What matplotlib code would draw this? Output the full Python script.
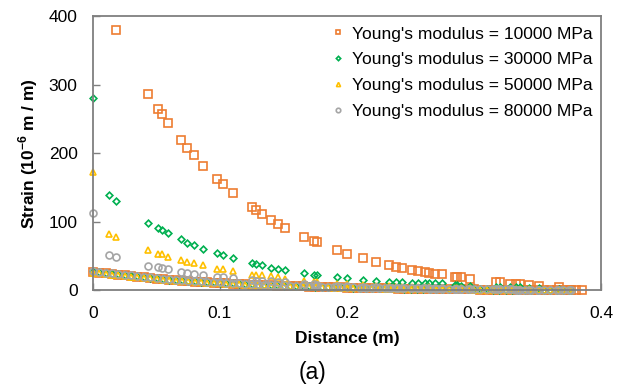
import matplotlib
matplotlib.use('Agg')
import matplotlib.pyplot as plt

plt.rcParams['font.family'] = 'Liberation Sans'
plt.rcParams['mathtext.fontset'] = 'custom'
plt.rcParams['mathtext.rm'] = 'Liberation Sans'
plt.rcParams['mathtext.bf'] = 'Liberation Sans:bold'

# Sparse points (same distances for all series)
sparse_x = [0.0, 0.0128, 0.018, 0.0433, 0.0514, 0.054, 0.0588, 0.069, 0.0743, 0.0795,
            0.087, 0.0974, 0.1026, 0.1105, 0.1254, 0.128, 0.133, 0.1404, 0.146, 0.151,
            0.1664, 0.1743, 0.1766, 0.192, 0.1997, 0.2126, 0.223, 0.233, 0.2386, 0.2433,
            0.251, 0.256, 0.2614, 0.2643, 0.2695, 0.2748, 0.2848, 0.287, 0.2898, 0.297,
            0.317, 0.3205, 0.328, 0.333, 0.336, 0.343, 0.351, 0.3667, 0.376, 0.380, 0.385]

# 10000 MPa starts at 0.018 (earlier values are above the axis limit)
e10000_x = sparse_x[2:]
e10000_y = [380, 286, 264, 257, 244, 219, 207, 197, 181, 163,
            155, 142, 121, 118, 111, 102, 97, 91, 78, 72,
            70, 59, 53.5, 47, 42, 37, 34.5, 32.6, 30, 28.5,
            26.5, 26, 24, 23.4, 19.5, 19.5, 19, 16.5, 12, 11.7,
            9.5, 9, 8.8, 7.3, 6.8, 4.4, 0.5, 0, 0]

other_x = sparse_x[:49]
e30000_y = [281, 139, 130, 98, 90.5, 88, 84, 74.5, 69.6, 65.7,
            60.3, 54, 51, 46.7, 39.4, 38.5, 36.5, 33, 31, 29.6,
            24.8, 22.9, 22.4, 19, 18, 15, 13.6, 12.2, 12, 11.8,
            11.5, 11.3, 11, 10.8, 10.5, 10.2, 7.5, 7.3, 7.2, 7,
            5.8, 5.5, 5, 4.6, 4.4, 4, 3.4, 2, 0]
e50000_y = [172, 83, 78, 58.4, 53.5, 52.5, 49, 44.3, 42, 39.4,
            36.5, 31.6, 31, 28, 23, 22, 22, 20.4, 19, 17,
            14, 13, 12.5, 9.7, 9, 7.3, 6.5, 6, 5.5, 5.3,
            5, 4.8, 4.6, 4.5, 4.3, 4.1, 3.6, 3.5, 3.4, 3.1,
            2.5, 2.4, 2.1, 2, 1.9, 1.6, 1.4, 0.8, 0.3]
e80000_y = [113, 51, 48.6, 36, 34, 33, 31, 26.8, 25.4, 24.3,
            23, 20, 19.5, 17.5, 14.6, 14.4, 14, 13.5, 12.5, 12,
            10, 9, 8.7, 7, 6.5, 5.2, 4.6, 4.2, 3.9, 3.7,
            3.5, 3.4, 3.2, 3.1, 3, 2.9, 2.6, 2.5, 2.4, 2.2,
            1.8, 1.7, 1.5, 1.4, 1.3, 1.2, 1, 0.6, 0.2]

# Dense points along the bottom
band_x = [0.000, 0.005, 0.010, 0.015, 0.020, 0.025, 0.030, 0.035, 0.040, 0.045,
          0.050, 0.055, 0.060, 0.065, 0.070, 0.075, 0.080, 0.085, 0.090, 0.095,
          0.100, 0.105, 0.110, 0.115, 0.120, 0.125, 0.130, 0.135, 0.140, 0.145,
          0.150, 0.155, 0.160, 0.165, 0.170, 0.175, 0.180, 0.185, 0.190, 0.195,
          0.200, 0.205, 0.210, 0.215, 0.220, 0.225, 0.230, 0.235, 0.240, 0.245,
          0.250, 0.255, 0.260, 0.265, 0.270, 0.275, 0.280, 0.285, 0.290, 0.295,
          0.300, 0.305, 0.310, 0.315, 0.320, 0.325, 0.330, 0.335, 0.340, 0.345,
          0.350, 0.355, 0.360, 0.365, 0.370, 0.375]
band_10000 = [27, 26, 25, 24, 23, 22, 21, 20, 19, 18,
              17, 16.5, 15.5, 15, 14.5, 14, 13, 12.5, 12, 11.5,
              11, 10.5, 10, 9.5, 9, 8.5, 8, 7.8, 7.5, 7.2,
              7, 6.6, 6.3, 6, 5.7, 5.4, 5.1, 4.8, 4.6, 4.4,
              4.2, 4, 3.8, 3.6, 3.4, 3.2, 3, 2.9, 2.8, 2.6,
              2.5, 2.4, 2.3, 2.2, 2.1, 2, 1.9, 1.8, 1.7, 1.6,
              1.5, 1.4, 1.3, 1.2, 1.1, 1, 0.9, 0.8, 0.7, 0.6,
              0.5, 0.4, 0.3, 0.2, 0.1, 0]
band_30000 = [28, 27, 25.5, 24.5, 23.5, 22.5, 21.5, 20.5, 19.5, 18.5,
              17.5, 16.5, 16, 15.5, 15, 14, 13.5, 13, 12.5, 12,
              11.5, 11, 10.5, 10, 9.5, 9, 8.5, 8, 7.7, 7.4,
              7.1, 6.8, 6.5, 6.2, 5.9, 5.6, 5.3, 5, 4.8, 4.6,
              4.4, 4.2, 4, 3.8, 3.6, 3.4, 3.2, 3.1, 3, 2.8,
              2.7, 2.6, 2.5, 2.4, 2.3, 2.2, 2.1, 2, 1.9, 1.8,
              1.7, 1.6, 1.5, 1.4, 1.3, 1.2, 1.1, 1, 0.9, 0.8,
              0.7, 0.6, 0.5, 0.3, 0.1, 0]
band_50000 = [26, 25, 24, 23, 22, 21, 20, 19, 18, 17.5,
              16.5, 16, 15, 14.5, 14, 13.5, 12.5, 12, 11.5, 11,
              10.5, 10, 9.5, 9, 8.5, 8, 7.6, 7.3, 7, 6.7,
              6.4, 6.1, 5.8, 5.5, 5.2, 4.9, 4.6, 4.4, 4.2, 4,
              3.8, 3.6, 3.4, 3.2, 3, 2.9, 2.8, 2.7, 2.6, 2.5,
              2.4, 2.3, 2.2, 2.1, 2, 1.9, 1.8, 1.7, 1.6, 1.5,
              1.4, 1.3, 1.2, 1.1, 1, 0.9, 0.8, 0.7, 0.6, 0.5,
              0.4, 0.3, 0.2, 0.2, 0.1, 0.1]
band_80000 = [29, 27.5, 26, 25, 24, 23, 22, 21, 20, 19,
              18, 17, 16.5, 16, 15, 14.5, 14, 13.5, 13, 12.5,
              12, 11.5, 11, 10.5, 10, 9.5, 9, 8.6, 8.2, 7.8,
              7.5, 7.2, 6.9, 6.6, 6.3, 6, 5.7, 5.4, 5.1, 4.9,
              4.7, 4.5, 4.3, 4.1, 3.9, 3.7, 3.5, 3.4, 3.3, 3.2,
              3.1, 3, 2.9, 2.8, 2.7, 2.6, 2.5, 2.4, 2.3, 2.2,
              2.1, 2, 1.9, 1.8, 1.7, 1.6, 1.5, 1.4, 1.3, 1.2,
              1.1, 1, 0.9, 0.8, 0.7, 0.6]

labels = ["Young's modulus = 10000 MPa", "Young's modulus = 30000 MPa",
          "Young's modulus = 50000 MPa", "Young's modulus = 80000 MPa"]
colors = ['#ED7D31', '#00B050', '#FFC000', '#A5A5A5']
markers = ['s', 'D', '^', 'o']
sizes = [5.2, 3.4, 4.6, 5.0]

series = [(e10000_x, e10000_y, band_10000),
          (other_x, e30000_y, band_30000),
          (other_x, e50000_y, band_50000),
          (other_x, e80000_y, band_80000)]

fig = plt.figure(figsize=(6.25, 3.85), dpi=100)
ax = fig.add_axes([0.1488, 0.2455, 0.8128, 0.713])

for (sx, sy, by), lab, c, m, s in zip(series, labels, colors, markers, sizes):
    ax.plot(list(sx) + band_x, list(sy) + by, linestyle='none', marker=m,
            markersize=s, markerfacecolor='none', markeredgecolor=c,
            markeredgewidth=1.2, label=lab, clip_on=False)

ax.set_xlim(0, 0.4)
ax.set_ylim(0, 400)
ax.set_xticks([0, 0.1, 0.2, 0.3, 0.4])
ax.set_xticklabels(['0', '0.1', '0.2', '0.3', '0.4'])
ax.set_yticks([0, 100, 200, 300, 400])

for sp in ax.spines.values():
    sp.set_color('#7F7F7F')
    sp.set_linewidth(1.3)
ax.tick_params(axis='both', direction='in', length=5, width=1, color='#7F7F7F',
               labelsize=12.5, labelcolor='black')
ax.tick_params(axis='y', pad=11)
ax.tick_params(axis='x', pad=11.5)

ax.set_xlabel('Distance (m)', fontsize=12.5, fontweight='bold', labelpad=7)
ax.set_ylabel(r'Strain (10$^{\mathbf{-6}}$ m / m)', fontsize=12.5,
              fontweight='bold', labelpad=6)

ax.legend(loc='upper right', bbox_to_anchor=(0.984, 0.962), frameon=False,
          fontsize=12.5, markerscale=0.65, handlelength=0.8, handletextpad=0.4,
          labelspacing=0.62, borderpad=0, borderaxespad=0)

fig.text(0.5, 0.0317, '(a)', ha='center', va='center', fontsize=16.5)

plt.savefig('out.png', dpi=100)
